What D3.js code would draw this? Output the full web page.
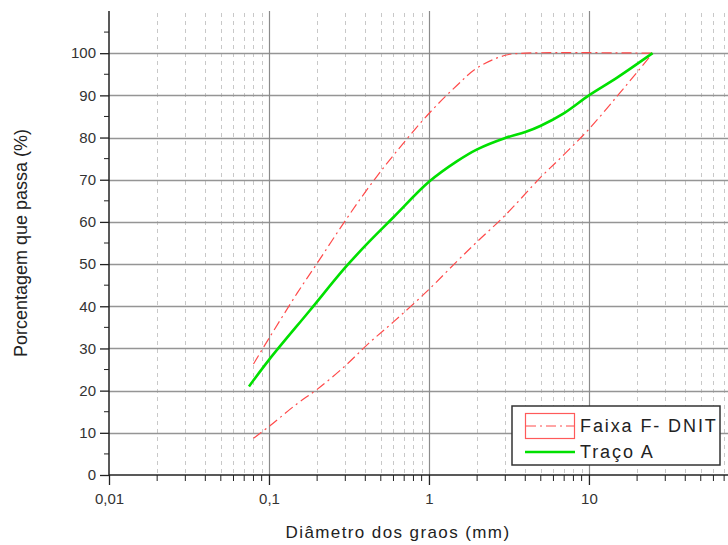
<!DOCTYPE html>
<html>
<head>
<meta charset="utf-8">
<script src="https://cdn.jsdelivr.net/npm/d3@7"></script>
<style>
  body { margin: 0; background: #fff; }
  svg { font-family: "Liberation Sans", Arial, sans-serif; }
</style>
</head>
<body>
<svg id="chart"></svg>
<script>
// grain size (mm) and percent passing
const tracoX = [0.075, 0.1, 0.18, 0.3, 0.42, 0.6, 1, 1.5, 2, 3, 4, 5, 7, 10, 15, 25];
const tracoY = [21, 27.3, 39, 49.2, 55.2, 61.1, 69.5, 74.4, 77.2, 79.9, 81.3, 82.8, 85.8, 90, 94.2, 100];

const upperX = [0.08, 0.1, 0.15, 0.2, 0.3, 0.42, 0.6, 1, 1.5, 2, 3, 4, 25];
const upperY = [26.3, 32.4, 43.1, 50.2, 60.3, 68.2, 75.8, 85.7, 92.4, 96.5, 99.5, 100, 100];

const lowerX = [0.08, 0.1, 0.15, 0.2, 0.3, 0.42, 0.6, 1, 1.5, 2, 3, 5, 7, 10, 15, 20, 25];
const lowerY = [8.7, 11.5, 16.9, 20.3, 25.9, 31.2, 36.3, 44, 50.7, 55.3, 61.6, 70.6, 76, 82, 89.8, 95.5, 100];

const xTicks = [0.01, 0.1, 1, 10];
const xTickLabels = ['0,01', '0,1', '1', '10'];
const yTicks = [0, 10, 20, 30, 40, 50, 60, 70, 80, 90, 100];

const legendLabels = ['Faixa F- DNIT', 'Traço A'];

const width = 728, height = 545;
const margin = { top: 11, right: 0, bottom: 70, left: 109 };

const svg = d3.select('#chart')
    .attr('width', width)
    .attr('height', height);

const x = d3.scaleLog()
    .domain([0.01, 74])
    .range([margin.left, width - margin.right]);

const y = d3.scaleLinear()
    .domain([0, 110])
    .range([height - margin.bottom, margin.top]);

const x0 = margin.left, x1 = width - margin.right;
const y0 = y(0), y1 = y(110);

// minor vertical grid (2..9 of each decade)
let minor = [];
for (let e = -2; e <= 1; e++) {
    for (let m = 2; m <= 9; m++) {
        let v = m * Math.pow(10, e);
        if (v < 74) minor.push(v);
    }
}

const grid = svg.append('g');

grid.selectAll('.vminor')
    .data(minor)
    .join('line')
    .attr('x1', d => Math.round(x(d)) + 0.5)
    .attr('x2', d => Math.round(x(d)) + 0.5)
    .attr('y1', y1 + 2)
    .attr('y2', y0)
    .attr('stroke', '#c8c8c8')
    .attr('stroke-dasharray', '4,4');

grid.selectAll('.hgrid')
    .data(yTicks.filter(d => d > 0))
    .join('line')
    .attr('x1', x0)
    .attr('x2', x1)
    .attr('y1', d => Math.round(y(d)) + 0.5)
    .attr('y2', d => Math.round(y(d)) + 0.5)
    .attr('stroke', '#959595')
    .attr('stroke-width', 1.3);

grid.selectAll('.vmajor')
    .data(xTicks.slice(1))
    .join('line')
    .attr('x1', d => Math.round(x(d)) + 0.5)
    .attr('x2', d => Math.round(x(d)) + 0.5)
    .attr('y1', y1)
    .attr('y2', y0)
    .attr('stroke', '#8a8a8a')
    .attr('stroke-width', 1.2);

// axes
const yAxis = d3.axisLeft(y)
    .tickValues(yTicks)
    .tickSize(9)
    .tickPadding(4)
    .tickFormat(d3.format('d'));

const yg = svg.append('g')
    .attr('transform', `translate(${x0},0)`)
    .call(yAxis);

// minor y ticks at 5s
yg.selectAll('.ymin')
    .data(d3.range(5, 110, 10))
    .join('line')
    .attr('x1', -5)
    .attr('x2', 0)
    .attr('y1', d => y(d))
    .attr('y2', d => y(d))
    .attr('stroke', '#222');

yg.select('.domain').attr('d', `M0,${y1}V${y0}`);

const xAxis = d3.axisBottom(x)
    .tickValues(xTicks)
    .tickSize(10)
    .tickPadding(8)
    .tickFormat((d, i) => xTickLabels[i]);

const xg = svg.append('g')
    .attr('transform', `translate(0,${y0})`)
    .call(xAxis);

xg.selectAll('.xmin')
    .data(minor)
    .join('line')
    .attr('x1', d => x(d))
    .attr('x2', d => x(d))
    .attr('y1', 0)
    .attr('y2', 6)
    .attr('stroke', '#222');

xg.select('.domain').attr('d', `M${x0},0H${x1}`);

[yg, xg].forEach(g => {
    g.selectAll('.domain').attr('stroke', '#222').attr('stroke-width', 1.5);
    g.selectAll('.tick line').attr('stroke', '#222').attr('stroke-width', 1.3);
    g.selectAll('.tick text')
        .attr('font-size', 15)
        .attr('fill', '#333');
});

// curves
const line = d3.line()
    .x(d => x(d[0]))
    .y(d => y(d[1]))
    .curve(d3.curveCatmullRom.alpha(0.5));

const zip = (a, b) => a.map((v, i) => [v, b[i]]);

const dashDot = '10,4,2,4';

svg.append('path')
    .datum(zip(upperX, upperY))
    .attr('d', line)
    .attr('fill', 'none')
    .attr('stroke', '#ff4a4a')
    .attr('stroke-width', 1.2)
    .attr('stroke-dasharray', dashDot);

svg.append('path')
    .datum(zip(lowerX, lowerY))
    .attr('d', line)
    .attr('fill', 'none')
    .attr('stroke', '#ff4a4a')
    .attr('stroke-width', 1.2)
    .attr('stroke-dasharray', dashDot);

svg.append('path')
    .datum(zip(tracoX, tracoY))
    .attr('d', line)
    .attr('fill', 'none')
    .attr('stroke', '#00e000')
    .attr('stroke-width', 2.6);

// axis titles
svg.append('text')
    .attr('transform', `translate(27,243) rotate(-90)`)
    .attr('text-anchor', 'middle')
    .attr('font-size', 18)
    .attr('fill', '#222')
    .text('Porcentagem que passa (%)');

svg.append('text')
    .attr('x', 398)
    .attr('y', 538)
    .attr('text-anchor', 'middle')
    .attr('font-size', 17)
    .attr('letter-spacing', 1.4)
    .attr('fill', '#222')
    .text('Diâmetro dos graos (mm)');

// legend
const lg = svg.append('g').attr('transform', 'translate(512,406)');

lg.append('rect')
    .attr('width', 208)
    .attr('height', 59)
    .attr('fill', '#fff')
    .attr('stroke', '#333')
    .attr('stroke-width', 1.5);

lg.append('rect')
    .attr('x', 13.5)
    .attr('y', 7.5)
    .attr('width', 49)
    .attr('height', 25)
    .attr('fill', 'none')
    .attr('stroke', '#ff5a5a')
    .attr('stroke-width', 1.2);

lg.append('line')
    .attr('x1', 14).attr('x2', 62)
    .attr('y1', 20).attr('y2', 20)
    .attr('stroke', '#ff4a4a')
    .attr('stroke-dasharray', dashDot);

lg.append('line')
    .attr('x1', 13).attr('x2', 63)
    .attr('y1', 46).attr('y2', 46)
    .attr('stroke', '#00e000')
    .attr('stroke-width', 2.6);

lg.selectAll('.ltext')
    .data(legendLabels)
    .join('text')
    .attr('x', 68)
    .attr('y', (d, i) => 26 + i * 26)
    .attr('font-size', 18)
    .attr('letter-spacing', 1.9)
    .attr('fill', '#222')
    .text(d => d);
</script>
</body>
</html>
